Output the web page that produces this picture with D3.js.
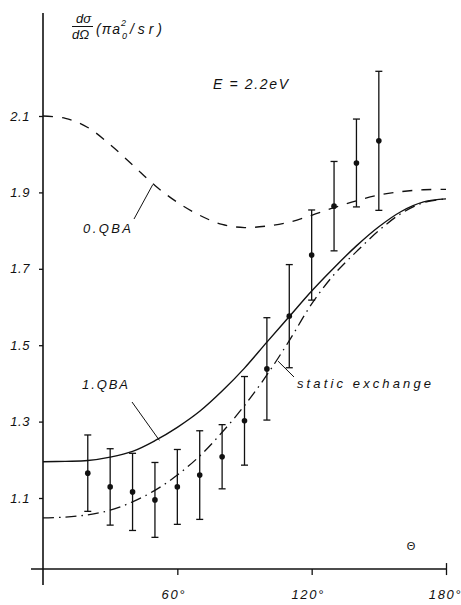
<!DOCTYPE html>
<html>
<head>
<meta charset="utf-8">
<script src="https://cdn.jsdelivr.net/npm/d3@7"></script>
<style>
  html, body { margin: 0; padding: 0; background: #fff; }
  svg { display: block; }
  text { font-family: "Liberation Sans", Arial, sans-serif; font-style: italic; fill: #111; }
</style>
</head>
<body>
<svg id="chart" width="461" height="605"></svg>
<script>
// Scattering angle grid (degrees) for the theoretical curves
const curveAngles = [0, 10, 20, 30, 40, 50, 60, 70, 80, 90, 100, 110, 120, 130, 140, 150, 160, 170, 180];
// 0.QBA (dashed)
const qba0 = [2.100, 2.094, 2.070, 2.025, 1.972, 1.918, 1.874, 1.840, 1.816, 1.808, 1.812, 1.822, 1.840, 1.860, 1.878, 1.893, 1.902, 1.907, 1.908];
// 1.QBA (solid)
const qba1 = [1.195, 1.196, 1.198, 1.207, 1.222, 1.250, 1.285, 1.327, 1.380, 1.440, 1.508, 1.575, 1.642, 1.703, 1.760, 1.810, 1.850, 1.875, 1.883];
// static exchange (dash-dot)
const staticEx = [1.048, 1.050, 1.056, 1.068, 1.090, 1.120, 1.160, 1.210, 1.272, 1.342, 1.422, 1.512, 1.608, 1.685, 1.745, 1.800, 1.845, 1.873, 1.883];

// Measured cross sections with error bars
const expAngles = [20, 30, 40, 50, 60, 70, 80, 90, 100, 110, 120, 130, 140, 150];
const expValues = [1.165, 1.129, 1.116, 1.095, 1.129, 1.160, 1.208, 1.302, 1.438, 1.576, 1.736, 1.864, 1.977, 2.035];
const expErrors = [0.100, 0.100, 0.101, 0.098, 0.098, 0.116, 0.084, 0.116, 0.134, 0.135, 0.118, 0.117, 0.115, 0.182];

// Axis ticks
const yTicks = [1.1, 1.3, 1.5, 1.7, 1.9, 2.1];
const xTicks = [60, 120, 180];

const svg = d3.select("#chart");
const x = d3.scaleLinear().domain([0, 180]).range([43, 446]);
const y = d3.scaleLinear().domain([1.1, 2.1]).range([498, 116]);
const yBottom = 0.914;   // value at the theta axis

const ink = "#111";

// vertical axis line (extends a little above and below the frame)
svg.append("line")
  .attr("x1", x(0)).attr("x2", x(0))
  .attr("y1", 13).attr("y2", y(yBottom) + 16)
  .attr("stroke", ink).attr("stroke-width", 1.6);

// horizontal axis line
svg.append("line")
  .attr("x1", x(0) - 12).attr("x2", x(180))
  .attr("y1", y(yBottom)).attr("y2", y(yBottom))
  .attr("stroke", ink).attr("stroke-width", 1.6);

// y axis ticks & labels
const yAxis = d3.axisLeft(y).tickValues(yTicks).tickSize(4).tickPadding(9)
  .tickFormat(d3.format(".1f"));
const gy = svg.append("g").attr("transform", `translate(${x(0)},0)`).call(yAxis);
gy.select(".domain").remove();
gy.selectAll(".tick line").attr("stroke", ink).attr("stroke-width", 1.3);
gy.selectAll(".tick text")
  .attr("font-size", 13).attr("fill", ink)
  .style("font-family", '"Liberation Sans", Arial, sans-serif')
  .style("font-style", "italic")
  .attr("letter-spacing", 0.6);

// x axis ticks & labels
const xAxis = d3.axisBottom(x).tickValues(xTicks).tickSize(6).tickPadding(15)
  .tickFormat(d => d + "°");
const gx = svg.append("g").attr("transform", `translate(0,${y(yBottom)})`).call(xAxis);
gx.select(".domain").remove();
gx.selectAll(".tick line").attr("stroke", ink).attr("stroke-width", 1.3)
  .attr("y1", d => d === 180 ? -6 : 0);
gx.selectAll(".tick text")
  .attr("font-size", 13).attr("fill", ink)
  .style("font-family", '"Liberation Sans", Arial, sans-serif')
  .style("font-style", "italic")
  .attr("letter-spacing", 1.6)
  .attr("dx", d => d === 180 ? -1 : -4);

// theoretical curves
const line = d3.line()
  .x((d, i) => x(curveAngles[i]))
  .y(d => y(d))
  .curve(d3.curveCatmullRom.alpha(0.5));

svg.append("path").datum(qba0).attr("d", line)
  .attr("fill", "none").attr("stroke", ink).attr("stroke-width", 1.3)
  .attr("stroke-dasharray", "10,9");

svg.append("path").datum(qba1).attr("d", line)
  .attr("fill", "none").attr("stroke", ink).attr("stroke-width", 1.4);

svg.append("path").datum(staticEx).attr("d", line)
  .attr("fill", "none").attr("stroke", ink).attr("stroke-width", 1.3)
  .attr("stroke-dasharray", "11,5,1.5,5");

// measured points with error bars
const pts = expAngles.map((a, i) => ({ a, v: expValues[i], e: expErrors[i] }));
const eg = svg.append("g");
const cap = 3.5;
pts.forEach(p => {
  const cx = x(p.a);
  const top = y(p.v + p.e), bot = y(p.v - p.e);
  eg.append("line").attr("x1", cx).attr("x2", cx).attr("y1", top).attr("y2", bot)
    .attr("stroke", ink).attr("stroke-width", 1.3);
  eg.append("line").attr("x1", cx - cap).attr("x2", cx + cap).attr("y1", top).attr("y2", top)
    .attr("stroke", ink).attr("stroke-width", 1.3);
  eg.append("line").attr("x1", cx - cap).attr("x2", cx + cap).attr("y1", bot).attr("y2", bot)
    .attr("stroke", ink).attr("stroke-width", 1.3);
  eg.append("circle").attr("cx", cx).attr("cy", y(p.v)).attr("r", 2.8).attr("fill", ink);
});

// curve labels with leader lines
function label(txt, tx, ty, len, size) {
  svg.append("text").attr("x", tx).attr("y", ty).attr("font-size", size)
    .attr("textLength", len).attr("lengthAdjust", "spacing").text(txt);
}
function leader(a1, v1, a2, v2) {
  svg.append("line")
    .attr("x1", a1).attr("y1", v1).attr("x2", a2).attr("y2", v2)
    .attr("stroke", ink).attr("stroke-width", 1);
}

label("0.QBA", 83, 233, 48, 13);
leader(134, 219, x(49), y(1.928) + 3);

label("1.QBA", 82, 389, 46, 13);
leader(132, 402, x(52), y(1.256) + 2);

label("static exchange", 297, 388, 134, 13);
leader(294, 377, x(105), y(1.466) + 3);

// energy annotation
label("E = 2.2eV", 213, 89, 75, 14);

// theta axis label
svg.append("text").attr("x", 411).attr("y", 550).attr("font-size", 11)
  .attr("text-anchor", "middle").style("font-style", "normal").text("Θ");

// ordinate title: dσ/dΩ (πa0²/sr)
svg.append("text").attr("x", 76).attr("y", 23).attr("font-size", 13).text("dσ");
svg.append("line").attr("x1", 72).attr("x2", 93).attr("y1", 26.5).attr("y2", 26.5)
  .attr("stroke", ink).attr("stroke-width", 1);
svg.append("text").attr("x", 72).attr("y", 39).attr("font-size", 13).text("dΩ");
svg.append("text").attr("x", 96).attr("y", 34).attr("font-size", 14)
  .attr("textLength", 24).attr("lengthAdjust", "spacing").text("(πa");
svg.append("text").attr("x", 121).attr("y", 26).attr("font-size", 9).text("2");
svg.append("text").attr("x", 122).attr("y", 39).attr("font-size", 9).text("0");
svg.append("text").attr("x", 130).attr("y", 34).attr("font-size", 14)
  .attr("textLength", 32).attr("lengthAdjust", "spacing").text("/sr)");
</script>
</body>
</html>
